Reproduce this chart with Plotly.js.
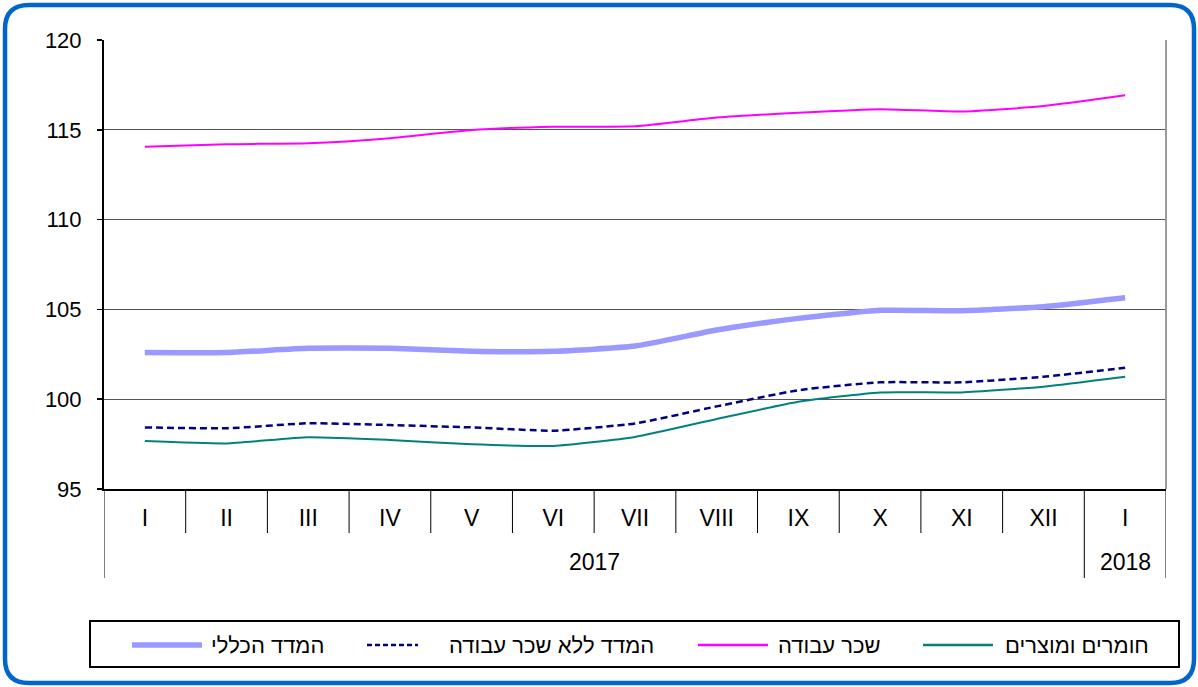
<!DOCTYPE html>
<html>
<head>
<meta charset="utf-8">
<script src="https://cdn.plot.ly/plotly-3.0.1.min.js"></script>
<style>html,body{margin:0;padding:0;background:#fff;}#chart{width:1198px;height:687px;}</style>
</head>
<body>
<div id="chart"></div>
<script>
// ---- data ----
var months = ['I','II','III','IV','V','VI','VII','VIII','IX','X','XI','XII','I'];
var years = ['2017','2018'];
var seriesNames = ['המדד הכללי','המדד ללא שכר עבודה','שכר עבודה','חומרים ומוצרים'];
var general   = [102.60,102.60,102.83,102.83,102.67,102.67,102.96,103.85,104.50,104.95,104.93,105.15,105.65];
var exclLabor = [98.43,98.38,98.66,98.56,98.43,98.25,98.65,99.60,100.50,100.94,100.94,101.25,101.75];
var labor     = [114.06,114.20,114.25,114.53,114.99,115.17,115.20,115.68,115.95,116.15,116.02,116.32,116.92];
var materials = [97.67,97.54,97.88,97.73,97.49,97.40,97.90,98.90,99.86,100.38,100.38,100.70,101.25];
var yTicks = [95,100,105,110,115,120];

// ---- layout helpers (pixel -> paper) ----
var W = 1198, H = 687, L = 104, R = 1166, T = 40, B = 489;
function px(x){ return (x - L) / (R - L); }
function py(y){ return (B - y) / (B - T); }

var xs = months.map(function(_, i){ return i; });
var FONT = 'Arial, "Liberation Sans", "DejaVu Sans", sans-serif';

var styles = [
  {color:'#9999FF', width:5.5, dash:'solid', legDash:'solid'},
  {color:'#000080', width:2.5, dash:'7px,4px', legDash:'5px,3px'},
  {color:'#FF00FF', width:2, dash:'solid', legDash:'solid'},
  {color:'#008080', width:2, dash:'solid', legDash:'solid'}
];
var values = [general, exclLabor, labor, materials];

var traces = values.map(function(v, i){
  return {
    x: xs, y: v, type:'scatter', mode:'lines', name: seriesNames[i],
    line:{color:styles[i].color, width:styles[i].width, dash:styles[i].dash, shape:'spline', smoothing:0.5},
    showlegend:false, hoverinfo:'y'
  };
});

var shapes = [];
// month dividers
for (var k = 0; k < months.length - 1; k++) {
  var longLine = (k === months.length - 2);
  shapes.push({type:'line', xref:'x', yref:'paper', x0:k+0.5, x1:k+0.5, y0:0, y1: longLine ? py(578) : py(533),
    line:{color:'#000', width:1}});
}
// outer edges of category area
shapes.push({type:'line', xref:'x', yref:'paper', x0:-0.5, x1:-0.5, y0:0, y1:py(578), line:{color:'#000', width:1}});
shapes.push({type:'line', xref:'x', yref:'paper', x0:12.5, x1:12.5, y0:0, y1:py(578), line:{color:'#000', width:1}});
// right border of plot area
shapes.push({type:'line', xref:'paper', yref:'paper', x0:1, x1:1, y0:0, y1:1, line:{color:'#999', width:2}});
// legend box
shapes.push({type:'rect', xref:'paper', yref:'paper', x0:px(90), x1:px(1179), y0:py(667), y1:py(621),
  line:{color:'#000', width:2}, fillcolor:'rgba(0,0,0,0)'});
// legend symbols
var legSym = [[132,202],[367,418],[698,768],[923,993]];
var legText = [209,447,776,1003];
var legY = py(645);
for (var i = 0; i < 4; i++) {
  shapes.push({type:'line', xref:'paper', yref:'paper', x0:px(legSym[i][0]), x1:px(legSym[i][1]), y0:legY, y1:legY,
    line:{color:styles[i].color, width: i===0 ? 5.5 : 2.5, dash: styles[i].legDash}});
}
// rounded outer frame
var fl = 5, fr = 1194, ft = 5, fb = 683, rr = 24;
var path = 'M' + px(fl+rr) + ',' + py(ft) +
  ' L' + px(fr-rr) + ',' + py(ft) +
  ' Q' + px(fr) + ',' + py(ft) + ' ' + px(fr) + ',' + py(ft+rr) +
  ' L' + px(fr) + ',' + py(fb-rr) +
  ' Q' + px(fr) + ',' + py(fb) + ' ' + px(fr-rr) + ',' + py(fb) +
  ' L' + px(fl+rr) + ',' + py(fb) +
  ' Q' + px(fl) + ',' + py(fb) + ' ' + px(fl) + ',' + py(fb-rr) +
  ' L' + px(fl) + ',' + py(ft+rr) +
  ' Q' + px(fl) + ',' + py(ft) + ' ' + px(fl+rr) + ',' + py(ft) + ' Z';
shapes.push({type:'path', xref:'paper', yref:'paper', path:path, line:{color:'#0066CC', width:4.5}, fillcolor:'rgba(0,0,0,0)'});

var annotations = [
  {text:years[0], xref:'x', yref:'paper', x:5.5, y:py(562), xanchor:'center', yanchor:'middle', showarrow:false,
   font:{family:FONT, size:23, color:'#000'}},
  {text:years[1], xref:'x', yref:'paper', x:12, y:py(562), xanchor:'center', yanchor:'middle', showarrow:false,
   font:{family:FONT, size:23, color:'#000'}}
];
for (var j = 0; j < 4; j++) {
  annotations.push({text:seriesNames[j], xref:'paper', yref:'paper', x:px(legText[j]), y:legY, xanchor:'left', yanchor:'middle',
    showarrow:false, font:{family:FONT, size:22, color:'#000'}});
}

var layout = {
  width: W, height: H,
  margin:{l:L, r:W-R, t:T, b:H-B, pad:0},
  paper_bgcolor:'#fff', plot_bgcolor:'#fff',
  font:{family:FONT, color:'#000'},
  showlegend:false,
  xaxis:{
    range:[-0.5, 12.5], tickmode:'array', tickvals:xs, ticktext:months,
    ticks:'', showgrid:false, zeroline:false, showline:true, linecolor:'#000', linewidth:2,
    tickfont:{family:FONT, size:23, color:'#000'}, ticklabelstandoff:7, fixedrange:true
  },
  yaxis:{
    range:[95,120], tickmode:'array', tickvals:yTicks, ticktext:yTicks.map(String),
    ticks:'outside', ticklen:5, tickcolor:'#000', tickwidth:1.5,
    showgrid:true, gridcolor:'#555', gridwidth:1.2, zeroline:false,
    showline:true, linecolor:'#000', linewidth:2,
    tickfont:{family:FONT, size:22, color:'#000'}, ticklabelstandoff:11, fixedrange:true
  },
  shapes: shapes,
  annotations: annotations
};

Plotly.newPlot('chart', traces, layout, {displayModeBar:false, staticPlot:true});
</script>
</body>
</html>
